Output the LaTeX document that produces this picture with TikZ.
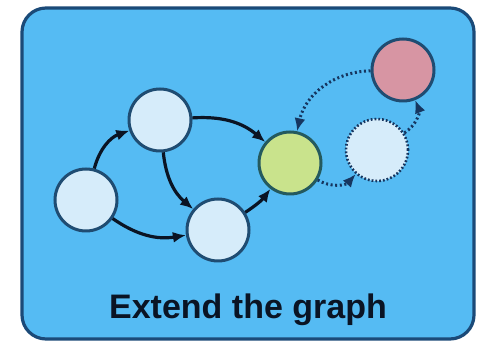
\documentclass[tikz,border=0pt]{standalone}
\usepackage{fontspec}
\setsansfont{Liberation Sans}
\usetikzlibrary{arrows.meta}
\definecolor{cSky}{HTML}{55BBF3}
\definecolor{cFrame}{HTML}{1B4A78}
\definecolor{cNode}{HTML}{D6ECFA}
\definecolor{cRim}{HTML}{1F4C72}
\definecolor{cNew}{HTML}{C9E38C}
\definecolor{cNewRim}{HTML}{245A5E}
\definecolor{cGoal}{HTML}{D795A3}
\definecolor{cInk}{HTML}{0A1424}
\definecolor{cDots}{HTML}{163660}
\tikzset{
  vertex/.style={circle,draw=cRim,fill=cNode,line width=3pt,minimum size=62pt,inner sep=0pt},
  edge/.style={-{Latex[length=13pt,width=11pt]},line width=3.2pt,draw=cInk},
  guess/.style={-{Latex[length=13pt,width=11pt]},line width=3pt,draw=cDots,
                dash pattern=on 2pt off 2.6pt},
  caption/.style={font=\sffamily\bfseries\fontsize{34}{40}\selectfont,text=cInk}
}
\begin{document}
\begin{tikzpicture}[x=1pt,y=1pt]
  \useasboundingbox (0,0) rectangle (478,344);
  \draw[rounded corners=24pt,draw=cFrame,fill=cSky,line width=3.2pt] (22,5) rectangle (474,336);

  \node[vertex] (a) at (86,144) {};
  \node[vertex] (b) at (160,224) {};
  \node[vertex] (c) at (218,114) {};
  \node[vertex,draw=cNewRim,fill=cNew] (d) at (290,181) {};
  \node[vertex,draw=cDots,line width=2.6pt,dash pattern=on 1.8pt off 2pt] (e) at (377,194) {};
  \node[vertex,fill=cGoal] (f) at (403,274) {};

  \draw[edge] (a) to[bend left=28] (b);
  \draw[edge] (a) to[bend right=22] (c);
  \draw[edge] (b) to[bend right=22] (c);
  \draw[edge] (b) to[bend left=22] (d);
  \draw[edge] (c) to[bend right=10] (d);

  \draw[guess] (d) to[bend right=40] (e);
  \draw[guess] (e) to[bend right=40] (f);
  \draw[guess] (f) to[bend right=38] (d);

  \node[caption] (title) at (248,34) {Extend the graph};
\end{tikzpicture}
\end{document}
